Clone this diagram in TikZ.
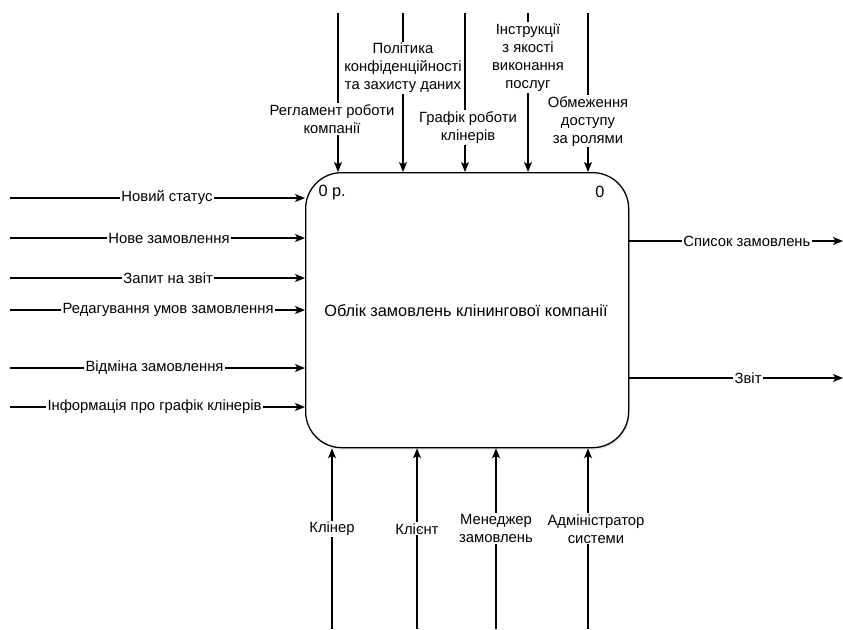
\documentclass[tikz,border=0pt]{standalone}
\usepackage{fontspec}
\setmainfont{Liberation Sans}
\usetikzlibrary{arrows.meta,shadows}

\begin{document}
\begin{tikzpicture}[x=1pt,y=-1pt,
  every node/.style={font=\fontsize{14.8}{18}\selectfont},
  boxtext/.style={font=\fontsize{16.3}{19}\selectfont},
  flow/.style={line width=1.3pt,-{Stealth[length=10pt,width=8pt,inset=2.5pt]}},
  lbl/.style={fill=white,inner sep=1.2pt,align=center},
  proc/.style={draw,line width=1.3pt,rounded corners=36pt,fill=white,
    minimum width=323pt,minimum height=275pt,anchor=north west,
    drop shadow={opacity=0.18,shadow xshift=1.5pt,shadow yshift=-2pt}}]
\useasboundingbox (0,0) rectangle (843,629);

% activity box
\node[proc] (A) at (305,172) {};
\node[boxtext] (title) at (466,311) {Облік замовлень клінингової компанії};
\node[boxtext,anchor=west] (num) at (315,192) {0 р.};
\node[boxtext] (id) at (600,192) {0};

% controls (top)
\coordinate (c1) at (338,13);
\coordinate (c2) at (403,13);
\coordinate (c3) at (465,13);
\coordinate (c4) at (528,13);
\coordinate (c5) at (588,13);
\draw[flow] (c1) -- node[lbl,pos=0.667,xshift=-6pt] (lc1) {Регламент роботи\\компанії} (c1 |- A.north);
\draw[flow] (c2) -- node[lbl,pos=0.346] (lc2) {Політика\\конфіденційності\\та захисту даних} (c2 |- A.north);
\draw[flow] (c3) -- node[lbl,pos=0.72,xshift=3pt] (lc3) {Графік роботи\\клінерів} (c3 |- A.north);
\draw[flow] (c4) -- node[lbl,pos=0.28] (lc4) {Інструкції\\з якості\\виконання\\послуг} (c4 |- A.north);
\draw[flow] (c5) -- node[lbl,pos=0.68] (lc5) {Обмеження\\доступу\\за ролями} (c5 |- A.north);

% inputs (left)
\coordinate (i1) at (10,198);
\coordinate (i2) at (10,238);
\coordinate (i3) at (10,278);
\coordinate (i4) at (10,310);
\coordinate (i5) at (10,368);
\coordinate (i6) at (10,407);
\draw[flow] (i1) -- node[lbl,pos=0.532] (li1) {Новий статус} (i1 -| A.west);
\draw[flow] (i2) -- node[lbl,pos=0.539] (li2) {Нове замовлення} (i2 -| A.west);
\draw[flow] (i3) -- node[lbl,pos=0.536] (li3) {Запит на звіт} (i3 -| A.west);
\draw[flow] (i4) -- node[lbl,pos=0.536] (li4) {Редагування умов замовлення} (i4 -| A.west);
\draw[flow] (i5) -- node[lbl,pos=0.49] (li5) {Відміна замовлення} (i5 -| A.west);
\draw[flow] (i6) -- node[lbl,pos=0.49] (li6) {Інформація про графік клінерів} (i6 -| A.west);

% outputs (right)
\coordinate (o1) at (843,241);
\coordinate (o2) at (843,378);
\draw[flow] (o1 -| A.east) -- node[lbl,pos=0.55] (lo1) {Список замовлень} (o1);
\draw[flow] (o2 -| A.east) -- node[lbl,pos=0.556] (lo2) {Звіт} (o2);

% mechanisms (bottom)
\coordinate (m1) at (332,629);
\coordinate (m2) at (417,629);
\coordinate (m3) at (496,629);
\coordinate (m4) at (588,629);
\draw[flow] (m1) -- node[lbl,pos=0.555] (lm1) {Клінер} (m1 |- A.south);
\draw[flow] (m2) -- node[lbl,pos=0.555] (lm2) {Клієнт} (m2 |- A.south);
\draw[flow] (m3) -- node[lbl,pos=0.555] (lm3) {Менеджер\\замовлень} (m3 |- A.south);
\draw[flow] (m4) -- node[lbl,pos=0.555,xshift=8pt] (lm4) {Адміністратор\\системи} (m4 |- A.south);
\end{tikzpicture}
\end{document}
